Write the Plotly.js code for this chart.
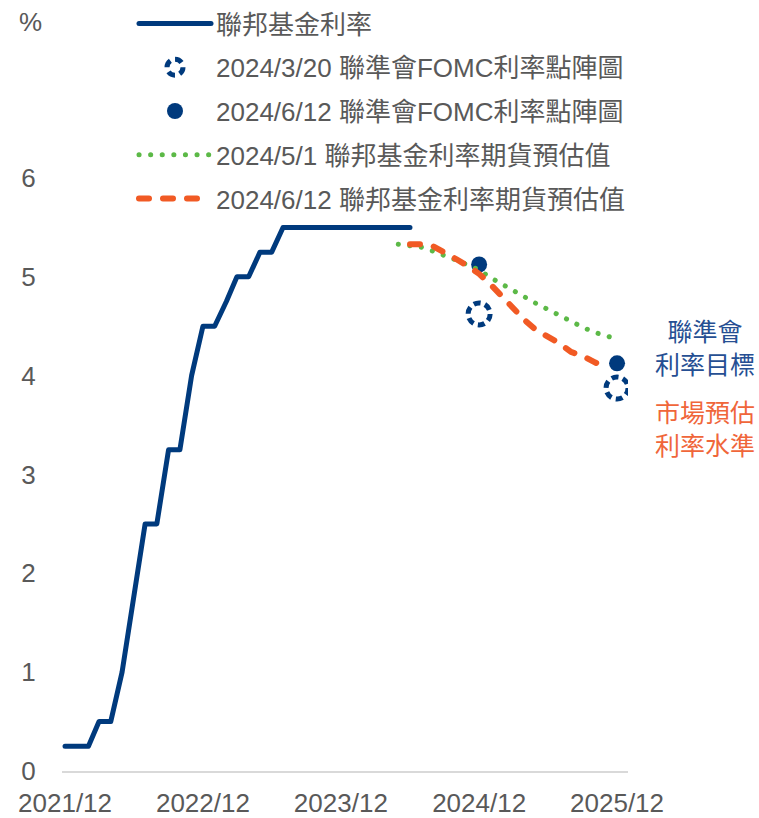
<!DOCTYPE html>
<html>
<head>
<meta charset="utf-8">
<script src="https://cdn.plot.ly/plotly-3.0.1.min.js"></script>
<style>html,body{margin:0;padding:0;background:#fff;}</style>
</head>
<body>
<div id="chart" style="width:759px;height:818px;"></div>
<script>
// ---- data ----
const ffDates = ["2021-12-01","2022-01-01","2022-02-01","2022-03-01","2022-04-01","2022-05-01","2022-06-01","2022-07-01","2022-08-01","2022-09-01","2022-10-01","2022-11-01","2022-12-01","2023-01-01","2023-02-01","2023-03-01","2023-04-01","2023-05-01","2023-06-01","2023-07-01","2023-08-01","2023-09-01","2023-10-01","2023-11-01","2023-12-01","2024-01-01","2024-02-01","2024-03-01","2024-04-01","2024-05-01","2024-06-01"];
const ffRate = [0.25,0.25,0.25,0.5,0.5,1.0,1.75,2.5,2.5,3.25,3.25,4.0,4.5,4.5,4.75,5.0,5.0,5.25,5.25,5.5,5.5,5.5,5.5,5.5,5.5,5.5,5.5,5.5,5.5,5.5,5.5];

const dotDates = ["2024-12-01","2025-12-01"];
const dotsMar = [4.625, 3.875];
const dotsJun = [5.125, 4.125];

const futMayDates = ["2024-05-01","2024-06-01","2024-07-01","2024-08-01","2024-09-01","2024-10-01","2024-11-01","2024-12-01","2025-01-01","2025-02-01","2025-03-01","2025-04-01","2025-05-01","2025-06-01","2025-07-01","2025-08-01","2025-09-01","2025-10-01","2025-11-01","2025-12-01"];
const futMay = [5.33,5.31,5.30,5.26,5.22,5.17,5.12,5.07,4.99,4.92,4.86,4.80,4.73,4.67,4.61,4.54,4.49,4.44,4.40,4.37];

const futJunDates = ["2024-06-01","2024-07-01","2024-08-01","2024-09-01","2024-10-01","2024-11-01","2024-12-01","2025-01-01","2025-02-01","2025-03-01","2025-04-01","2025-05-01","2025-06-01","2025-07-01","2025-08-01","2025-09-01","2025-10-01","2025-11-01"];
const futJun = [5.33,5.33,5.31,5.25,5.18,5.11,5.03,4.92,4.79,4.68,4.56,4.46,4.39,4.33,4.24,4.20,4.14,4.08];

const names = ["聯邦基金利率","2024/3/20 聯準會FOMC利率點陣圖","2024/6/12 聯準會FOMC利率點陣圖","2024/5/1 聯邦基金利率期貨預估值","2024/6/12 聯邦基金利率期貨預估值"];
const tickVals = ["2021-12-01","2022-12-01","2023-12-01","2024-12-01","2025-12-01"];
const tickText = ["2021/12","2022/12","2023/12","2024/12","2025/12"];
const yTicks = [0,1,2,3,4,5,6];

// ---- style ----
const NAVY = "#003a7d", GREEN = "#5cb947", ORANGE = "#f15a24";
const FONT = "Liberation Sans, Arial, Noto Sans CJK TC, sans-serif";
const GREY = "#595959";
const FS = 26;

const traces = [
  {x: ffDates, y: ffRate, name: names[0], mode: "lines", legendgroup: "a",
   line: {color: NAVY, width: 5}},
  {x: dotDates, y: dotsMar, name: names[1], mode: "markers", legendgroup: "b",
   marker: {symbol: "circle-open", size: 22, color: NAVY, line: {color: NAVY, width: 5}}},
  {x: dotDates, y: dotsJun, name: names[2], mode: "markers", legendgroup: "c",
   marker: {symbol: "circle", size: 16, color: NAVY}},
  {x: futMayDates, y: futMay, name: names[3], mode: "lines", legendgroup: "d",
   line: {color: GREEN, width: 5, dash: "0.1px,11.5px"}},
  {x: futJunDates, y: futJun, name: names[4], mode: "lines", legendgroup: "e",
   line: {color: ORANGE, width: 6, dash: "10px,14px"}}
];

const layout = {
  width: 759, height: 818,
  margin: {l: 62, r: 131, t: 178, b: 47, autoexpand: false},
  paper_bgcolor: "#fff", plot_bgcolor: "#fff",
  font: {family: FONT, size: FS, color: GREY},
  showlegend: true,
  legend: {
    orientation: "v", xref: "container", yref: "container",
    x: 134/759, y: 1 + 3/818, xanchor: "left", yanchor: "top",
    itemwidth: 72, tracegroupgap: 7, bgcolor: "rgba(0,0,0,0)",
    font: {family: FONT, size: FS, color: GREY}
  },
  xaxis: {
    type: "date", range: ["2021-11-23", "2025-12-30"],
    tickmode: "array", tickvals: tickVals, ticktext: tickText,
    showgrid: false, zeroline: false,
    showline: true, linecolor: "#d9d9d9", linewidth: 2,
    ticks: "outside", ticklen: 8, tickcolor: "rgba(0,0,0,0)",
    tickfont: {family: FONT, size: FS, color: GREY}
  },
  yaxis: {
    range: [0, 6], tickmode: "array", tickvals: yTicks,
    showgrid: false, zeroline: false, showline: false,
    ticks: "outside", ticklen: 20, tickcolor: "rgba(0,0,0,0)",
    tickfont: {family: FONT, size: FS, color: GREY}
  },
  annotations: [
    {text: "%", xref: "paper", yref: "paper", x: (30-62)/566, y: (771-22)/593,
     xanchor: "center", yanchor: "middle",
     showarrow: false, font: {size: FS, color: GREY, family: FONT}},
    {text: "聯準會<br>利率目標", xref: "paper", yref: "paper", x: (705-62)/566, y: (771-348)/593,
     xanchor: "center", yanchor: "middle",
     showarrow: false, font: {size: 25, color: "#264f93", family: FONT}},
    {text: "市場預估<br>利率水準", xref: "paper", yref: "paper", x: (705-62)/566, y: (771-429)/593,
     xanchor: "center", yanchor: "middle",
     showarrow: false, font: {size: 25, color: "#f0663a", family: FONT}}
  ]
};

Plotly.newPlot("chart", traces, layout, {displayModeBar: false, staticPlot: true}).then(function (gd) {
  const plotTraces = gd.querySelectorAll(".scatterlayer .trace");
  const legTraces = gd.querySelectorAll(".legend .traces");
  // round caps on lines
  [0, 3, 4].forEach(function (i) {
    if (plotTraces[i]) plotTraces[i].querySelectorAll("path.js-line").forEach(function (p) {
      p.style.strokeLinecap = "round"; p.style.strokeLinejoin = "round";
    });
    if (legTraces[i]) legTraces[i].querySelectorAll("path.js-line").forEach(function (p) {
      p.style.strokeLinecap = "round";
    });
  });
  // dashed ring for the March dot plot
  if (plotTraces[1]) plotTraces[1].querySelectorAll("path.point").forEach(function (p) {
    p.style.strokeDasharray = "7,4.5";
  });
  if (legTraces[1]) legTraces[1].querySelectorAll("path.scatterpts").forEach(function (p) {
    p.style.strokeDasharray = "7.5,5";
  });
});
</script>
</body>
</html>
